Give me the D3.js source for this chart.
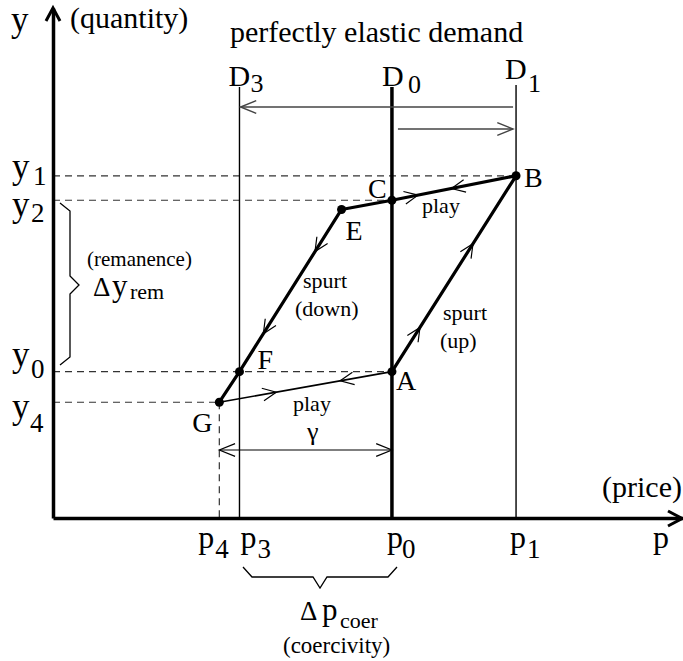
<!DOCTYPE html>
<html><head><meta charset="utf-8">
<script src="https://cdn.jsdelivr.net/npm/d3@7"></script>
<style>
body{margin:0;background:#fff}
svg{display:block}
text{font-family:"Liberation Serif","Times New Roman",serif;fill:#000}
</style>
</head><body>
<svg id="chart" width="683" height="661"></svg>
<script>
// price levels marked on the horizontal axis
const priceNames = ["p4", "p3", "p0", "p1"];
const priceLevels = [2.64, 2.96, 5.38, 7.35];
// quantity levels marked on the vertical axis
const quantityNames = ["y1", "y2", "y0", "y4"];
const quantityLevels = [6.71, 6.23, 2.87, 2.27];
// corner points of the hysteresis loop
const pointNames = ["A", "B", "C", "E", "F", "G"];
const pointPrice = [5.38, 7.35, 5.38, 4.58, 2.96, 2.64];
const pointQuantity = [2.87, 6.71, 6.23, 6.05, 2.87, 2.27];
// perfectly elastic demand curves (vertical lines)
const demandNames = ["D3", "D0", "D1"];
const demandPrice = [2.96, 5.38, 7.35];

const svg = d3.select("#chart");
const x = d3.scaleLinear().domain([0, 10]).range([53, 683]);
const y = d3.scaleLinear().domain([0, 10]).range([518, 8]);

const P = {};
pointNames.forEach((n, i) => P[n] = [x(pointPrice[i]), y(pointQuantity[i])]);
const price = {}; priceNames.forEach((n, i) => price[n] = priceLevels[i]);
const qty = {}; quantityNames.forEach((n, i) => qty[n] = quantityLevels[i]);

function txt(px, py, s, size) {
  return svg.append("text").attr("x", px).attr("y", py)
    .attr("font-size", size).text(s);
}

// dashed guide lines
const dash = svg.append("g").attr("stroke", "#333").attr("stroke-width", 1.2)
  .attr("stroke-dasharray", "7,5").attr("fill", "none");
[["y1", "B"], ["y2", "C"], ["y0", "A"], ["y4", "G"]].forEach(([q, pt]) => {
  dash.append("line").attr("x1", x(0)).attr("x2", P[pt][0])
    .attr("y1", y(qty[q])).attr("y2", y(qty[q]));
});
dash.append("line").attr("x1", P.G[0]).attr("x2", P.G[0])
  .attr("y1", P.G[1]).attr("y2", y(0));

// demand curves
demandNames.forEach((n, i) => {
  svg.append("line").attr("x1", x(demandPrice[i])).attr("x2", x(demandPrice[i]))
    .attr("y1", n === "D1" ? 85 : 87).attr("y2", y(0))
    .attr("stroke", "#000").attr("stroke-width", n === "D0" ? 3.5 : 1.4);
});

// axes
const xAxis = svg.append("g").attr("transform", `translate(0,${y(0)})`)
  .call(d3.axisBottom(x).tickValues(priceLevels).tickSize(0).tickSizeOuter(0).tickFormat(""));
const yAxis = svg.append("g").attr("transform", `translate(${x(0)},0)`)
  .call(d3.axisLeft(y).tickValues(quantityLevels).tickSize(0).tickSizeOuter(0).tickFormat(""));
[xAxis, yAxis].forEach(a => a.select(".domain").attr("stroke", "#000").attr("stroke-width", 3.5));
svg.append("polyline").attr("points", `${x(0)-7},21 ${x(0)},8 ${x(0)+7},21`)
  .attr("fill", "none").attr("stroke", "#000").attr("stroke-width", 3);
svg.append("polyline").attr("points", `668,511 682,518.5 668,526`)
  .attr("fill", "none").attr("stroke", "#000").attr("stroke-width", 3);

// open arrowhead at the tip (tx,ty) of a line coming from (fx,fy)
function head(g, fx, fy, tx, ty, len = 17, ang = 22) {
  const a = Math.atan2(ty - fy, tx - fx), r = ang * Math.PI / 180;
  const p1 = [tx - len * Math.cos(a - r), ty - len * Math.sin(a - r)];
  const p2 = [tx - len * Math.cos(a + r), ty - len * Math.sin(a + r)];
  g.append("polyline").attr("points", `${p1} ${tx},${ty} ${p2}`);
}
function arrow(g, fx, fy, tx, ty, both) {
  g.append("line").attr("x1", fx).attr("y1", fy).attr("x2", tx).attr("y2", ty);
  head(g, fx, fy, tx, ty);
  if (both) head(g, tx, ty, fx, fy);
}

// shifts of the demand curve
const shift = svg.append("g").attr("stroke", "#444").attr("stroke-width", 1.4).attr("fill", "none");
arrow(shift, x(price.p1) - 3, 107, x(price.p3) + 1, 107);
arrow(shift, x(price.p0) + 6, 129, x(price.p1) - 3, 129);

// play width gamma
const gam = svg.append("g").attr("stroke", "#000").attr("stroke-width", 1.2).attr("fill", "none");
arrow(gam, x(price.p4), 450, x(price.p0), 450, true);

// loop
const loop = svg.append("g").attr("fill", "none").attr("stroke", "#000").attr("stroke-linecap", "round");
const ln = d3.line();
loop.append("path").attr("d", ln([P.G, P.A])).attr("stroke-width", 1.6);
loop.append("path").attr("d", ln([P.A, P.B])).attr("stroke-width", 3.2);
loop.append("path").attr("d", ln([P.B, P.C, P.E])).attr("stroke-width", 3.2);
loop.append("path").attr("d", ln([P.E, P.F, P.G])).attr("stroke-width", 3.2);

// direction marks along the loop
const marks = [["C", "B", 0.21], ["B", "C", 0.52], ["E", "F", 0.26], ["E", "F", 0.766],
  ["A", "B", 0.226], ["A", "B", 0.653], ["G", "A", 0.33], ["A", "G", 0.30]];
const mk = svg.append("g").attr("stroke", "#000").attr("stroke-width", 1.2).attr("fill", "none");
marks.forEach(([f, t, k]) => {
  const a = P[f], b = P[t];
  const tx = a[0] + k * (b[0] - a[0]), ty = a[1] + k * (b[1] - a[1]);
  head(mk, a[0], a[1], tx, ty, 15, 25);
});

// loop points
svg.append("g").selectAll("circle").data(pointNames).join("circle")
  .attr("cx", d => P[d][0]).attr("cy", d => P[d][1]).attr("r", 4.5).attr("fill", "#000");

// point labels
const ptLab = {A: [4, 18], B: [8, 11], C: [-24, -2], E: [4, 31], F: [18, -3], G: [-27, 30]};
pointNames.forEach(n => txt(P[n][0] + ptLab[n][0], P[n][1] + ptLab[n][1], n, 28));

// quantity tick labels
const qLab = {y1: [2, 9, 33], y2: [15.5, 21.5, 31], y0: [-5.5, 6.5, 31], y4: [15.5, 29.5, 30]};
quantityNames.forEach(n => {
  const v = y(qty[n]), o = qLab[n];
  txt(12, v + o[0], "y", 35);
  txt(o[2], v + o[1], n.slice(1), 27);
});

// price tick labels
const pLab = {p4: [-21, -4], p3: [1, 18], p0: [-5, 10], p1: [-6, 11]};
priceNames.forEach(n => {
  const v = x(price[n]), o = pLab[n];
  txt(v + o[0], 548, "p", 32);
  txt(v + o[1], 558, n.slice(1), 27);
});

// demand labels
txt(x(price.p3) - 11, 86, "D", 30); txt(x(price.p3) + 11, 92, "3", 26);
txt(x(price.p0) - 10, 86, "D", 30); txt(x(price.p0) + 16, 93, "0", 26);
txt(x(price.p1) - 11, 79, "D", 30); txt(x(price.p1) + 12, 92, "1", 26);

// titles
txt(11, 31, "y", 35);
txt(70, 28, "(quantity)", 30);
txt(230, 42, "perfectly elastic demand", 30);
txt(602, 497, "(price)", 30);
txt(653, 548, "p", 32);

// segment annotations
txt(422, 213, "play", 22);
txt(303, 288, "spurt", 22);
txt(295, 316, "(down)", 22);
txt(443, 320, "spurt", 22);
txt(440, 348, "(up)", 22);
txt(293, 411, "play", 22);
txt(307, 440, "γ", 26);

// remanence brace and label
const br = svg.append("g").attr("stroke", "#000").attr("stroke-width", 1.3).attr("fill", "none");
br.append("polyline").attr("points", "60,203 70,211 70,276 79,285 70,294 70,357 60,365");
txt(87, 266, "(remanence)", 21);
txt(93, 296, "Δ", 27);
txt(112, 296, "y", 31);
txt(130, 299, "rem", 22);

// coercivity brace and label
br.append("polyline").attr("points", "243,567 252,577 313,577 320,588 327,577 388,577 397,567");
txt(300, 620, "Δ", 27);
txt(322, 620, "p", 31);
txt(340, 628, "coer", 22);
txt(283, 653, "(coercivity)", 23);
</script>
</body></html>
